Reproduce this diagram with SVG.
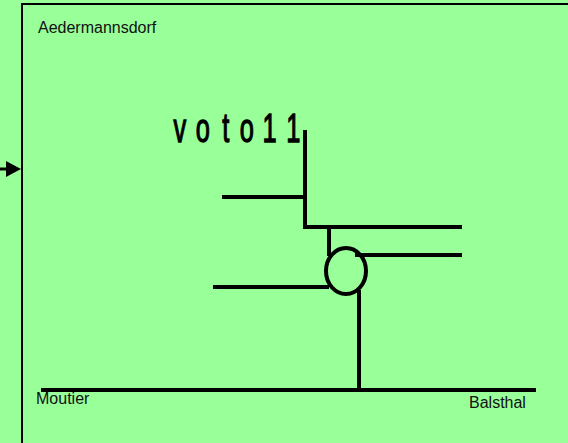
<svg xmlns="http://www.w3.org/2000/svg" width="568" height="443" viewBox="0 0 568 443">
<style>
.l{fill:none;stroke:#000;stroke-width:4}
.t{font-family:"Liberation Sans",Arial,sans-serif;font-size:16px;fill:#111}
.v{font-family:"Liberation Sans",Arial,sans-serif;font-size:41px;fill:#000;stroke:#000;stroke-width:1.3;text-anchor:middle}
</style>
<rect width="568" height="443" fill="#9f9"/>
<g id="frame"><path d="M22 443V4H568" fill="none" stroke="#000" stroke-width="2"/></g>
<g id="labels">
<text class="t" x="38" y="33">Aedermannsdorf</text>
<text class="t" x="36" y="404">Moutier</text>
<text class="t" x="469" y="408">Balsthal</text>
<g transform="translate(0 142) scale(0.62 1)">
<text class="v" x="290">v</text><text class="v" x="327">o</text><text class="v" x="364">t</text><text class="v" x="398">o</text><text class="v" x="435">1</text><text class="v" x="473">1</text>
</g>
</g>
<g id="connectors">
<path class="l" d="M305 130V227H462"/>
<path class="l" d="M222 197H305"/>
<path class="l" d="M329 227V256"/>
<path class="l" d="M355 255H462"/>
<path class="l" d="M213 287H329"/>
<path class="l" d="M359 290V390"/>
<path class="l" d="M41 390H536"/>
<path d="M0 169H8" stroke="#000" stroke-width="3" fill="none"/>
<path d="M6 161L21 169L6 177Z" fill="#000"/>
</g>
<g id="junction"><ellipse class="l" cx="346" cy="271" rx="20" ry="23"/></g>
</svg>
